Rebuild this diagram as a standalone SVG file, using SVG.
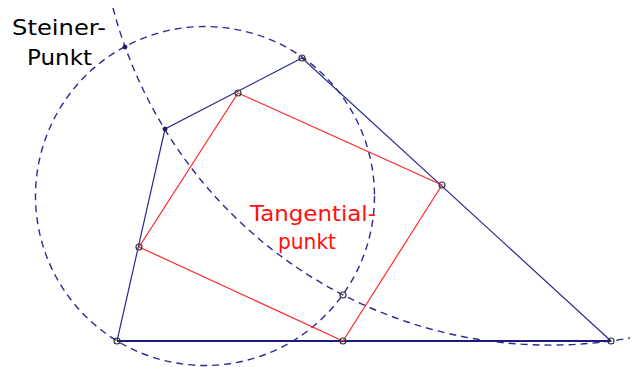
<svg xmlns="http://www.w3.org/2000/svg" width="632" height="367" viewBox="0 0 632 367">
<style>
.dash{fill:none;stroke:#2b2b95;stroke-width:1.4;stroke-dasharray:7 5}
.quad{fill:none;stroke:#2a2a90;stroke-width:1.2}
.base{stroke:#1c1c80;stroke-width:1.8}
.sq{fill:none;stroke:#ff2a2a;stroke-width:1.2}
.pt{fill:#fff;fill-opacity:0;stroke:#333;stroke-width:1.2}
.fpt{fill:#1c1c60;stroke:#1c1c60;stroke-width:1}
.lbl{font-family:"Comic Sans MS","DejaVu Sans",sans-serif;font-size:21px}
</style>
<rect width="632" height="367" fill="#fff"/>
<g id="connectors">
<circle class="dash" cx="205" cy="196" r="169.5"/>
<path class="dash" d="M113 8 A452 452 0 0 0 630 338"/>
<polyline class="quad" points="117,341 165,129 302,58 611,341"/>
<line class="base" x1="117" y1="341" x2="611" y2="341"/>
<polygon class="sq" points="238,93 442,185 343,341 139,247"/>
</g>
<g id="A"><circle class="pt" cx="117" cy="341" r="3"/></g>
<g id="B"><circle class="pt" cx="611" cy="341" r="3"/></g>
<g id="C"><circle class="pt" cx="302" cy="58" r="3"/></g>
<g id="D"><circle class="fpt" cx="165" cy="129" r="2"/></g>
<g id="E"><circle class="pt" cx="238" cy="93" r="3"/></g>
<g id="F"><circle class="pt" cx="442" cy="185" r="3"/></g>
<g id="G"><circle class="pt" cx="343" cy="341" r="3"/></g>
<g id="H"><circle class="pt" cx="139" cy="247" r="3"/></g>
<g id="P"><circle class="pt" cx="343" cy="295" r="3"/></g>
<g id="Steiner">
<circle class="fpt" cx="125" cy="47" r="2"/>
<text class="lbl" x="12" y="35" textLength="94" lengthAdjust="spacingAndGlyphs" fill="#000">Steiner-</text>
<text class="lbl" x="27" y="65" textLength="65" lengthAdjust="spacingAndGlyphs" fill="#000">Punkt</text>
</g>
<g id="Tangential">
<text class="lbl" x="250" y="221" textLength="126" lengthAdjust="spacingAndGlyphs" fill="#ff1010">Tangential-</text>
<text class="lbl" x="278" y="249" textLength="58" lengthAdjust="spacingAndGlyphs" fill="#ff1010">punkt</text>
</g>
</svg>
